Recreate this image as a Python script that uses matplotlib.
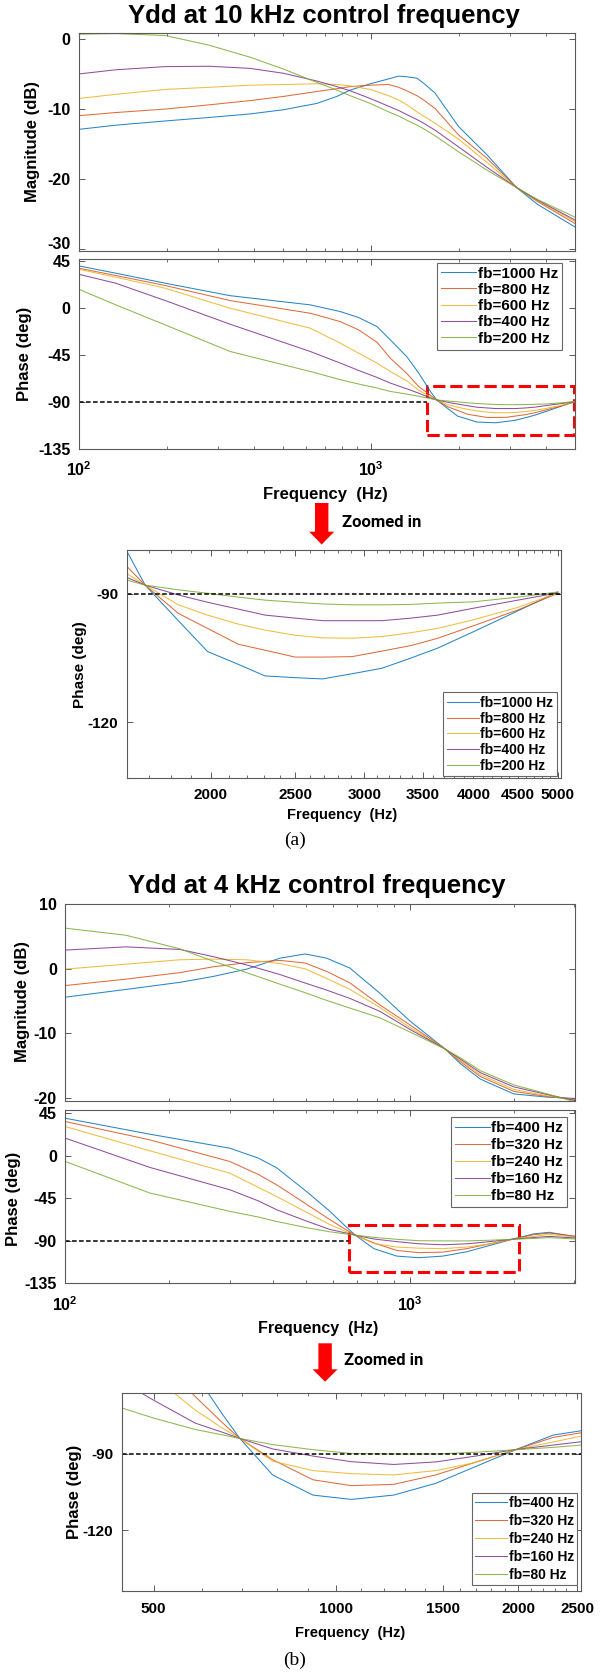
import matplotlib
matplotlib.use('Agg')
import matplotlib.pyplot as plt
from matplotlib.patches import Rectangle, Polygon
from matplotlib.ticker import FixedLocator, NullFormatter, LogLocator
import numpy as np

plt.rcParams['font.family'] = ['Liberation Sans', 'DejaVu Sans']
plt.rcParams['axes.unicode_minus'] = False
plt.rcParams['mathtext.fontset'] = 'custom'
plt.rcParams['mathtext.rm'] = 'Liberation Sans'
plt.rcParams['mathtext.bf'] = 'Liberation Sans:bold'

# ---------------- data : (a) 10 kHz control frequency ----------------
labels_a = ['fb=1000 Hz', 'fb=800 Hz', 'fb=600 Hz', 'fb=400 Hz', 'fb=200 Hz']

freq_a_mag = [100, 134, 198, 280, 386, 503, 654, 766, 851, 997, 1152, 1247, 1331,
              1441, 1517, 1660, 2001, 2500, 3162, 3732, 5000]
mag_a_1000 = [-12.9, -12.3, -11.7, -11.2, -10.7, -10.1, -9.2, -8.2, -7.3, -6.4, -5.7,
              -5.3, -5.4, -5.6, -6.3, -7.7, -12.5, -16.5, -21.2, -23.6, -26.8]
mag_a_800 = [-10.95, -10.5, -10.0, -9.4, -8.8, -8.2, -7.5, -7.1, -6.8, -6.6, -6.5,
             -6.9, -7.4, -8.1, -8.7, -9.9, -13.7, -17.0, -21.2, -23.2, -26.3]
mag_a_600 = [-8.5, -7.9, -7.2, -6.9, -6.6, -6.5, -6.4, -6.5, -6.7, -7.2, -8.1,
             -8.7, -9.4, -10.4, -11.0, -12.0, -14.3, -17.6, -21.2, -23.1, -26.0]
mag_a_400 = [-5.0, -4.4, -3.95, -3.9, -4.2, -4.9, -6.0, -6.8, -7.4, -8.5, -9.6,
             -10.2, -10.8, -11.5, -12.0, -13.0, -15.4, -18.3, -21.2, -23.0, -25.8]
mag_a_200 = [0.67, 0.76, 0.48, -0.9, -2.6, -4.3, -6.2, -7.3, -8.1, -9.2, -10.4,
             -11.0, -11.6, -12.3, -12.8, -13.8, -16.1, -18.7, -21.2, -22.9, -25.4]

freq_a_ph = [100, 134, 198, 330, 450, 621, 787, 909, 1051, 1167, 1333, 1458, 1603,
             1683, 1837, 1984, 2152, 2309, 2500, 2687, 2904, 3144, 3396, 3642, 4000,
             4500, 5000]
ph_a_1000 = [40.2, 33.2, 23.6, 11.7, 7.4, 2.9, -3.5, -9.2, -17.8, -30.5, -47, -62,
             -80, -88, -96.3, -103.5, -106.5, -109.2, -109.6, -109.9, -108.7, -107.4,
             -105.0, -102.7, -98.9, -94.0, -89.6]
ph_a_800 = [38, 31, 21.4, 7.0, 1.1, -5.1, -13.1, -21, -32.8, -48, -63, -75, -83.6,
            -88, -94.6, -98.1, -101.8, -103.2, -104.8, -104.8, -104.7, -103.4, -102.1,
            -100.4, -97.5, -93.8, -89.9]
ph_a_600 = [37, 29.4, 18.8, -0.3, -9.7, -19.4, -33.7, -43.3, -52.8, -60.8, -70, -78.5,
            -85.3, -88, -92.6, -95, -97.1, -98.5, -99.7, -100.3, -100.4, -100.0, -99.1,
            -98.1, -96.1, -93.2, -89.8]
ph_a_400 = [32.2, 23.6, 7, -15.6, -28.4, -41.7, -52.8, -59.8, -66.5, -71.9, -77.5,
            -81.5, -86.2, -88, -90.3, -92.0, -93.6, -95.0, -95.7, -96.3, -96.3, -96.3,
            -95.7, -95.0, -93.4, -91.5, -89.8]
ph_a_200 = [17.9, 2.9, -16.3, -41.7, -51.1, -60.8, -68.7, -72.8, -76.6, -79.9, -82.5,
            -84.5, -86.8, -88, -89.1, -89.9, -90.8, -91.5, -92.0, -92.4, -92.6, -92.6,
            -92.5, -92.2, -91.9, -90.8, -89.6]

# ---------------- data : (b) 4 kHz control frequency ----------------
labels_b = ['fb=400 Hz', 'fb=320 Hz', 'fb=240 Hz', 'fb=160 Hz', 'fb=80 Hz']

freq_b_mag = [100, 150, 215, 268, 336, 420, 496, 573, 670, 818, 1000, 1266, 1400,
              1600, 2000, 2500, 3000]
mag_b_400 = [-4.4, -3.2, -2.1, -1.2, -0.05, 1.65, 2.3, 1.65, 0.1, -3.8, -8.1, -12.45,
             -14.7, -17.1, -19.4, -19.9, -20.1]
mag_b_320 = [-2.6, -1.6, -0.6, 0.3, 0.95, 1.3, 0.9, -0.4, -2.2, -5.6, -8.7, -12.45,
             -14.4, -16.7, -19.0, -19.8, -20.2]
mag_b_240 = [-0.05, 0.72, 1.4, 1.5, 1.4, 0.8, 0.0, -1.5, -3.2, -6.0, -9.1, -12.45,
             -14.2, -16.4, -18.7, -19.7, -20.3]
mag_b_160 = [2.9, 3.4, 3.0, 1.9, 0.6, -0.9, -2.2, -3.3, -4.6, -6.6, -9.4, -12.45,
             -14.0, -16.1, -18.3, -19.5, -20.4]
mag_b_80 = [6.3, 5.2, 3.1, 1.2, -0.6, -2.4, -3.7, -4.9, -6.1, -7.6, -9.8, -12.45,
            -13.8, -15.8, -18.0, -19.4, -20.6]

freq_b_ph = [100, 176, 300, 363, 410, 500, 586, 650, 694, 786, 916, 1060, 1245, 1461,
             1700, 1985, 2281, 2535, 3000]
ph_b_400 = [39.8, 22.9, 8.1, -2.4, -12.6, -37.5, -58.8, -74.6, -84, -98.3, -106.2,
            -107.9, -106.2, -101.6, -95.0, -88.3, -82.7, -81.0, -85.5]
ph_b_320 = [36.3, 16.9, -6.0, -19.7, -30.6, -51.1, -67.6, -77.9, -84, -92.3, -100.2,
            -102.5, -102.0, -98.3, -93.3, -88.3, -83.6, -81.8, -85.0]
ph_b_240 = [31.0, 5.3, -18.3, -33.4, -43.0, -59.6, -72.9, -80.0, -84, -92.9, -96.6,
            -97.8, -98.3, -96.6, -93.4, -88.3, -85.4, -83.1, -86.0]
ph_b_160 = [18.7, -12.3, -35.9, -47.7, -57.0, -69.0, -78.0, -81.6, -84, -88.1, -90.9,
            -93.1, -94.2, -93.2, -90.9, -88.3, -86.6, -85.3, -87.0]
ph_b_80 = [-6.0, -39.4, -58.8, -64.8, -69.5, -76.0, -80.5, -82.6, -84, -86.4, -88.4,
           -89.9, -90.1, -90.1, -89.4, -88.4, -87.5, -86.6, -88.0]

# reference phase line and zoom-window boxes
ref_phase = -90
box_a = [1562, 4985, -121.9, -75.1]   # f_lo, f_hi, ph_lo, ph_hi
box_b = [667, 2071, -123.3, -73.2]

colors = ['#0072BD', '#D95319', '#EDB120', '#7E2F8E', '#77AC30']

W, H = 602, 1672
fig = plt.figure(figsize=(W / 100, H / 100), dpi=100)

SP = '#5a5a5a'


def add_ax(l, t, r, b):
    return fig.add_axes([l / W, 1 - b / H, (r - l) / W, (b - t) / H])


def style(ax, lsize=11.5, xpad=8, ypad=6):
    for s in ax.spines.values():
        s.set_color(SP)
        s.set_linewidth(0.8)
    ax.tick_params(which='both', direction='in', top=True, right=True, color=SP,
                   labelsize=lsize)
    ax.tick_params(which='major', length=4, width=0.7)
    ax.tick_params(which='minor', length=2.5, width=0.6)
    ax.tick_params(axis='x', pad=xpad)
    ax.tick_params(axis='y', pad=ypad)


def ftext(x, y, s, **kw):
    fig.text(x / W, 1 - y / H, s, **kw)


def plot_series(ax, f, series, labels, lw=0.75):
    for vals, c, lab in zip(series, colors, labels):
        ax.plot(f, vals, color=c, lw=lw, label=lab, alpha=0.85)


def log_x(ax, lo, hi, labels=True):
    ax.set_xscale('log')
    ax.set_xlim(lo, hi)
    ax.set_xticks([100, 1000])
    if labels:
        ax.set_xticklabels([r'$\mathbf{10^{2}}$', r'$\mathbf{10^{3}}$'], fontsize=12)
    else:
        ax.set_xticklabels([])
    ax.xaxis.set_minor_locator(LogLocator(base=10, subs=np.arange(2, 10)))
    ax.xaxis.set_minor_formatter(NullFormatter())


def yt(ax, ticks, size=11.5):
    ax.set_yticks(ticks)
    return ax.set_yticklabels([str(t) for t in ticks], fontweight='bold', fontsize=size)


def legend(ax, labels, anchor, loc, size, spacing):
    ax.legend(loc=loc, bbox_to_anchor=anchor, prop={'weight': 'bold', 'size': size},
              frameon=True, fancybox=False, edgecolor='#666666', framealpha=1,
              handlelength=2.3, handletextpad=0.1, borderaxespad=0,
              labelspacing=spacing, borderpad=0.25)
    ax.get_legend().get_frame().set_linewidth(0.8)


dash_k = dict(color='black', lw=1.1, ls=(0, (3, 1.6)))
dash_r = dict(edgecolor='red', lw=2.2, ls=(0, (4, 1.6)), fill=False, clip_on=False)

# ================= (a) magnitude =================
ax = add_ax(78.7, 33.3, 574.7, 250.7)
plot_series(ax, freq_a_mag, [mag_a_1000, mag_a_800, mag_a_600, mag_a_400, mag_a_200], labels_a)
log_x(ax, 100, 5000, labels=False)
ax.set_ylim(-30.2, 0.8)
labs = yt(ax, [-30, -20, -10, 0], size=11)
labs[0].set_verticalalignment('baseline')
style(ax)

# ================= (a) phase =================
ax = add_ax(78.7, 259.3, 574.7, 449)
plot_series(ax, freq_a_ph, [ph_a_1000, ph_a_800, ph_a_600, ph_a_400, ph_a_200], labels_a)
ax.hlines(ref_phase, 100, box_a[0], **dash_k)
ax.add_patch(Rectangle((box_a[0], box_a[2]), box_a[1] - box_a[0], box_a[3] - box_a[2], **dash_r))
log_x(ax, 100, 5000)
ax.set_ylim(-135, 46.5)
labs = yt(ax, [-135, -90, -45, 0, 45], size=11)
labs[-1].set_verticalalignment('center_baseline')
style(ax)
legend(ax, labels_a, (0.9744, 0.982), 'upper right', 11, 0.15)

# ================= (a) zoomed =================
ax = add_ax(126.7, 550, 560.5, 778.3)
plot_series(ax, freq_a_ph, [ph_a_1000, ph_a_800, ph_a_600, ph_a_400, ph_a_200], labels_a)
ax.axhline(ref_phase, **dash_k)
ax.set_xscale('log')
ax.set_xlim(1603, 5035)
zt = [2000, 2500, 3000, 3500, 4000, 4500, 5000]
ax.set_xticks(zt)
ax.set_xticklabels([str(t) for t in zt], fontweight='bold', fontsize=11)
ax.xaxis.set_minor_locator(FixedLocator([f for f in range(1700, 5001, 100) if f not in zt]))
ax.xaxis.set_minor_formatter(NullFormatter())
ax.set_ylim(-133.1, -79.8)
yt(ax, [-120, -90], size=11)
style(ax, lsize=11, xpad=7)
legend(ax, labels_a, (0.991, 0.010), 'lower right', 10, 0.12)

# ================= (b) magnitude =================
ax = add_ax(65.3, 904.3, 574.7, 1101)
plot_series(ax, freq_b_mag, [mag_b_400, mag_b_320, mag_b_240, mag_b_160, mag_b_80], labels_b)
log_x(ax, 100, 3006, labels=False)
ax.set_ylim(-20.5, 10)
yt(ax, [-20, -10, 0, 10])
style(ax)

# ================= (b) phase =================
ax = add_ax(65.3, 1110.5, 574.7, 1283.3)
plot_series(ax, freq_b_ph, [ph_b_400, ph_b_320, ph_b_240, ph_b_160, ph_b_80], labels_b)
ax.hlines(ref_phase, 100, box_b[0], **dash_k)
ax.add_patch(Rectangle((box_b[0], box_b[2]), box_b[1] - box_b[0], box_b[3] - box_b[2], **dash_r))
log_x(ax, 100, 3006)
ax.set_ylim(-135, 48)
yt(ax, [-135, -90, -45, 0, 45])
style(ax, xpad=9)
legend(ax, labels_b, (0.9849, 0.961), 'upper right', 11, 0.2)

# ================= (b) zoomed =================
ax = add_ax(121.7, 1393.3, 580.8, 1591)
plot_series(ax, freq_b_ph, [ph_b_400, ph_b_320, ph_b_240, ph_b_160, ph_b_80], labels_b)
ax.axhline(ref_phase, **dash_k)
ax.set_xscale('log')
ax.set_xlim(443, 2535)
zt = [500, 1000, 1500, 2000, 2500]
ax.set_xticks(zt)
ax.set_xticklabels([str(t) for t in zt], fontweight='bold', fontsize=11)
ax.xaxis.set_minor_locator(FixedLocator([f for f in range(500, 2501, 100) if f not in zt]))
ax.xaxis.set_minor_formatter(NullFormatter())
ax.set_ylim(-143.8, -66.3)
yt(ax, [-120, -90], size=11)
style(ax, lsize=11, xpad=8)
legend(ax, labels_b, (0.9928, 0.030), 'lower right', 10, 0.28)

# ================= texts =================
bold = dict(fontweight='bold')
ftext(324.4, 22.7, 'Ydd at 10 kHz control frequency', ha='center', va='baseline', fontsize=18.5, **bold)
ftext(316.7, 893.3, 'Ydd at 4 kHz control frequency', ha='center', va='baseline', fontsize=18.5, **bold)

for (x, y, s, fs) in [(33, 141.5, 'Magnitude (dB)', 12), (25, 354, 'Phase (deg)', 12),
                      (79.8, 665, 'Phase (deg)', 11), (22.3, 1001.7, 'Magnitude (dB)', 12),
                      (13.4, 1199, 'Phase (deg)', 12), (74.9, 1491.7, 'Phase (deg)', 12)]:
    ftext(x, y, s, rotation=90, ha='center', va='center', fontsize=fs, **bold)

for (x, y, fs) in [(325.3, 494.5, 12), (342.5, 815, 10.5), (318.2, 1328.3, 11.5), (350.3, 1633, 10.5)]:
    ftext(x, y, 'Frequency  (Hz)', ha='center', va='center', fontsize=fs, **bold)

ftext(294.8, 840, '(a)', ha='center', va='center', fontsize=14, family='Liberation Serif')
ftext(294.8, 1660, '(b)', ha='center', va='center', fontsize=14, family='Liberation Serif')


def arrow(cx, top, head_y, tip):
    pts = [(cx - 6.7, top), (cx + 6.7, top), (cx + 6.7, head_y), (cx + 12.5, head_y),
           (cx, tip), (cx - 12.5, head_y), (cx - 6.7, head_y)]
    fig.patches.append(Polygon([(x / W, 1 - y / H) for x, y in pts], closed=True,
                               transform=fig.transFigure, facecolor='#ff0000',
                               edgecolor='none', figure=fig))


arrow(321.7, 503, 531.7, 544.5)
arrow(325.1, 1343.3, 1369.3, 1381.7)
zfont = dict(fontsize=12, family=['Roboto', 'DejaVu Sans'], fontweight='bold')
ftext(341.7, 527.3, 'Zoomed in', ha='left', va='baseline', **zfont)
ftext(344.3, 1365, 'Zoomed in', ha='left', va='baseline', **zfont)

fig.savefig('out.png', dpi=100)
